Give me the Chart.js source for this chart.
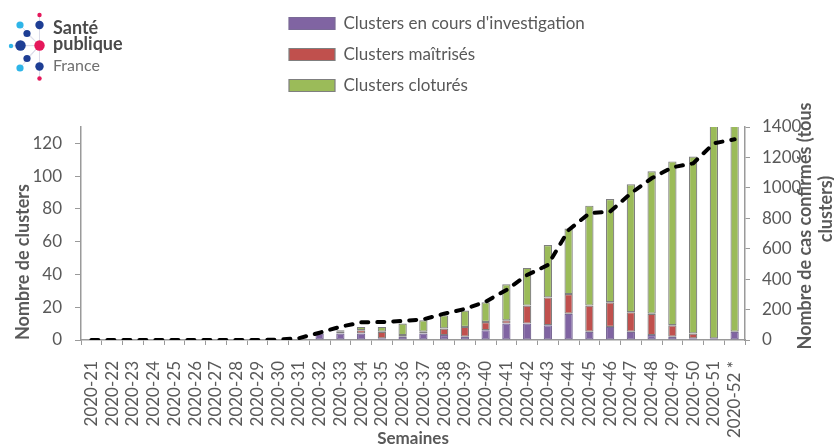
<!DOCTYPE html>
<html>
<head>
<meta charset="utf-8">
<script src="https://cdn.jsdelivr.net/npm/chart.js@4/dist/chart.umd.min.js"></script>
<style>
html,body{margin:0;padding:0;background:#fff;}
#wrap{width:834px;height:446px;position:relative;}
</style>
</head>
<body>
<div id="wrap"><canvas id="c" width="834" height="446"></canvas></div>
<script>
const weeks = ['2020-21','2020-22','2020-23','2020-24','2020-25','2020-26','2020-27','2020-28','2020-29','2020-30','2020-31','2020-32','2020-33','2020-34','2020-35','2020-36','2020-37','2020-38','2020-39','2020-40','2020-41','2020-42','2020-43','2020-44','2020-45','2020-46','2020-47','2020-48','2020-49','2020-50','2020-51','2020-52 *'];
const enCours   = [0,0,0,0,0,0,0,0,0,0,0, 4,4,4,1,2,4,3,2,6,10,10,9,16,5,8,5,3,2,1,1,5];
const maitrises = [0,0,0,0,0,0,0,0,0,0,0, 0,1,2,4,1,1,4,6,5,2,11,17,12,16,15,12,13,7,3,0,0];
const clotures  = [0,0,0,0,0,0,0,0,0,0,0, 0,1,2,3,7,7,8,10,12,22,23,32,40,61,63,78,87,100,108,136,140];
const casConfirmes = [0,0,0,0,0,0,0,0,0,2,12,48,87,116,118,125,136,173,204,252,329,427,493,723,833,844,964,1063,1135,1161,1293,1319];
const seriesNames = ["Clusters en cours d'investigation", 'Clusters maîtrisés', 'Clusters cloturés', 'Nombre de cas confirmés (tous clusters)'];
const leftTitle = 'Nombre de clusters';
const rightTitleLines = ['Nombre de cas confirmés (tous', 'clusters)'];
const xTitle = 'Semaines';

const GREY_TXT = '#595959';
const AXIS = '#9a9a9a';
Chart.defaults.font.family = 'Lato';
Chart.defaults.color = GREY_TXT;

const legendPlace = {
  id: 'legendPlace',
  afterLayout(chart) {
    const lg = chart.legend;
    if (!lg) return;
    lg.left = 275; lg.top = 1; lg.right = 660; lg.bottom = 112;
    lg.width = lg.right - lg.left; lg.height = lg.bottom - lg.top;
  }
};

const logoPlugin = {
  id: 'logo',
  afterDraw(chart) {
    const ctx = chart.ctx;
    ctx.save();
    const c = [39.5, 45.5];
    const dots = [
      [39.5, 15, 2.2, '#E5185B'],
      [20, 25, 3.6, '#2EB5E8'],
      [39.5, 25, 4.2, '#1E3E94'],
      [27, 33.5, 3.6, '#1E3E94'],
      [11, 46, 2.2, '#2EB5E8'],
      [20.5, 45.5, 5.2, '#1E3E94'],
      [39.5, 45.5, 5.2, '#E5185B'],
      [27, 58.5, 3.6, '#1E3E94'],
      [20, 68, 3.6, '#2EB5E8'],
      [39.5, 66.5, 4.2, '#1E3E94'],
      [39.5, 78.5, 2.2, '#E5185B']
    ];
    ctx.strokeStyle = '#dcdce8';
    ctx.lineWidth = 1;
    for (const d of dots) { ctx.beginPath(); ctx.moveTo(c[0], c[1]); ctx.lineTo(d[0], d[1]); ctx.stroke(); }
    for (const d of dots) { ctx.beginPath(); ctx.arc(d[0], d[1], d[2], 0, Math.PI * 2); ctx.fillStyle = d[3]; ctx.fill(); }
    ctx.textBaseline = 'alphabetic';
    ctx.textAlign = 'left';
    ctx.fillStyle = '#4a4a4a';
    ctx.font = 'bold 18px Lato';
    ctx.fillText('Santé', 53, 34);
    ctx.fillText('publique', 53, 50);
    ctx.fillStyle = '#707070';
    ctx.font = '16px Lato';
    ctx.fillText('France', 53, 71);
    ctx.restore();
  }
};

const rightTitlePlugin = {
  id: 'rightTitle',
  afterDraw(chart) {
    const ctx = chart.ctx;
    const pos = [[805, 226], [826, 209]];
    ctx.save();
    ctx.fillStyle = GREY_TXT;
    ctx.font = 'bold 18px Lato';
    ctx.textAlign = 'center';
    ctx.textBaseline = 'middle';
    rightTitleLines.forEach((t, i) => {
      ctx.save();
      ctx.translate(pos[i][0], pos[i][1]);
      ctx.rotate(-Math.PI / 2);
      ctx.fillText(t, 0, 0);
      ctx.restore();
    });
    ctx.restore();
  }
};

const barCommon = {
  type: 'bar',
  yAxisID: 'y',
  stack: 's',
  borderColor: '#7f7f7f',
  borderWidth: 1.2,
  borderSkipped: false,
  barPercentage: 0.4,
  categoryPercentage: 1.0,
  order: 1
};

new Chart(document.getElementById('c'), {
  type: 'bar',
  data: {
    labels: weeks,
    datasets: [
      Object.assign({}, barCommon, { label: seriesNames[0], data: enCours, backgroundColor: '#8064A2', borderColor: '#7a6a96' }),
      Object.assign({}, barCommon, { label: seriesNames[1], data: maitrises, backgroundColor: '#C0504D' }),
      Object.assign({}, barCommon, { label: seriesNames[2], data: clotures, backgroundColor: '#9BBB59' }),
      {
        type: 'line', label: seriesNames[3], data: casConfirmes, yAxisID: 'y1',
        borderColor: '#000', borderWidth: 4, borderDash: [7, 9], borderCapStyle: 'round',
        pointRadius: 0, tension: 0, fill: false, order: 0
      }
    ]
  },
  options: {
    responsive: false,
    animation: false,
    layout: { padding: { top: 127, left: 0, right: 0, bottom: 0 } },
    plugins: {
      tooltip: { enabled: false },
      legend: {
        position: 'chartArea',
        align: 'start',
        labels: {
          boxWidth: 46, boxHeight: 12, padding: 14,
          font: { size: 17, family: 'Lato' }, color: GREY_TXT,
          filter: (item) => item.datasetIndex < 3
        }
      }
    },
    scales: {
      x: {
        stacked: true,
        offset: true,
        grid: { offset: true, drawOnChartArea: false, drawTicks: true, tickLength: 5, color: AXIS },
        border: { display: true, color: AXIS, width: 1.5 },
        ticks: { autoSkip: false, minRotation: 90, maxRotation: 90, padding: 16, font: { size: 17 }, color: GREY_TXT },
        title: { display: true, text: xTitle, font: { size: 17, weight: 'bold' }, color: GREY_TXT, padding: { top: 0, bottom: -3 } },
        afterFit(s) { s.height = 106; }
      },
      y: {
        stacked: true,
        position: 'left',
        min: 0, max: 130,
        grid: { drawOnChartArea: false, drawTicks: true, tickLength: 6, color: AXIS },
        border: { display: true, color: AXIS, width: 1.5 },
        ticks: { stepSize: 20, includeBounds: false, padding: 13, font: { size: 17 }, color: GREY_TXT, callback: (v) => String(v) },
        title: { display: true, text: leftTitle, align: 'start', font: { size: 18, weight: 'bold' }, color: GREY_TXT, padding: { top: 12, bottom: 0 } },
        afterFit(s) { s.width = 81; }
      },
      y1: {
        position: 'right',
        min: 0, max: 1400,
        grid: { drawOnChartArea: false, drawTicks: true, tickLength: 5, color: AXIS },
        border: { display: true, color: AXIS, width: 1.5 },
        ticks: { stepSize: 200, padding: 12, font: { size: 17 }, color: GREY_TXT, callback: (v) => String(v) },
        afterFit(s) { s.width = 89; }
      }
    }
  },
  plugins: [legendPlace, logoPlugin, rightTitlePlugin]
});
</script>
</body>
</html>
